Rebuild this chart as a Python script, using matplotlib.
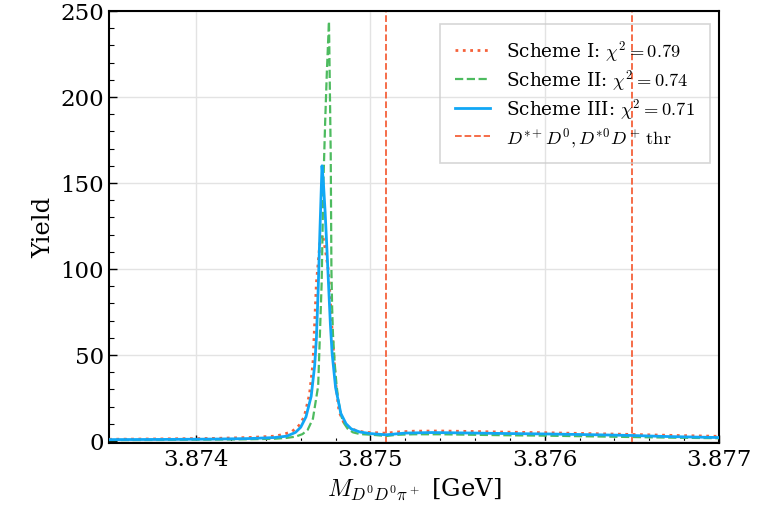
import matplotlib
matplotlib.use("Agg")
import matplotlib.pyplot as plt
from matplotlib.ticker import MultipleLocator

plt.rcParams["font.family"] = "DejaVu Serif"
plt.rcParams["mathtext.fontset"] = "cm"

# ── Data ────────────────────────────────────────────────────────────────────
# Scheme I (dotted)
x_s1 = [3.8735, 3.8738, 3.8741, 3.8743, 3.87445, 3.87450, 3.87455, 3.87459,
        3.87462, 3.87465, 3.87467, 3.87469, 3.87471, 3.874725, 3.87474,
        3.87476, 3.87478, 3.87480, 3.87482, 3.87485, 3.87488, 3.87492,
        3.87497, 3.87503, 3.87509, 3.87515, 3.87525, 3.87540, 3.87560,
        3.87580, 3.87600, 3.87625, 3.87650, 3.87675, 3.87700]
y_s1 = [1.0, 1.2, 1.5, 2.0, 2.8, 3.8, 5.5, 9.0,
        14.0, 27.0, 45.0, 92.0, 115.0, 120.0, 112.0,
        98.0, 64.0, 34.0, 17.0, 10.0, 7.5, 6.0,
        5.0, 4.8, 4.5, 5.2, 5.7, 5.8, 5.5,
        5.1, 4.8, 4.3, 3.8, 3.2, 2.7]

# Scheme II (dashed)
x_s2 = [3.8735, 3.8738, 3.8741, 3.8743, 3.87445, 3.87452, 3.87457, 3.87461,
        3.87464, 3.87467, 3.87470, 3.87472, 3.87473, 3.87474, 3.87475,
        3.874762, 3.874767, 3.874772, 3.874776, 3.87478, 3.874785, 3.874795,
        3.874805, 3.874815, 3.874834, 3.87485, 3.87487, 3.87490, 3.87494,
        3.87501, 3.87509, 3.87515, 3.87525, 3.87540, 3.87560, 3.87580,
        3.87600, 3.87625, 3.87650, 3.87675, 3.87700]
y_s2 = [0.5, 0.6, 0.8, 1.0, 1.3, 1.8, 2.5, 4.0,
        6.5, 13.0, 32.0, 92.0, 150.0, 185.0, 215.0,
        244.0, 205.0, 167.0, 100.0, 78.0, 62.0, 45.0,
        33.0, 24.0, 14.0, 10.0, 7.0, 5.0, 4.0,
        3.6, 2.9, 3.6, 3.9, 3.9, 3.6, 3.3,
        3.1, 2.7, 2.3, 1.9, 1.6]

# Scheme III (solid)
x_s3 = [3.8735, 3.8738, 3.8741, 3.8743, 3.87445, 3.87452, 3.87457, 3.87460,
        3.87463, 3.87466, 3.87468, 3.87469, 3.87470, 3.87471, 3.874722,
        3.87473, 3.87474, 3.87475, 3.87476, 3.87477, 3.87478, 3.87480,
        3.87483, 3.87486, 3.87489, 3.87494, 3.87500, 3.87509, 3.87520,
        3.87535, 3.87560, 3.87580, 3.87600, 3.87630, 3.87650, 3.87670,
        3.87700]
y_s3 = [0.8, 0.9, 1.1, 1.4, 2.0, 2.8, 5.0, 8.0,
        14.0, 26.0, 44.0, 60.0, 88.0, 122.0, 160.0,
        150.0, 133.0, 112.0, 90.0, 68.0, 51.0, 31.0,
        16.0, 10.0, 7.0, 5.2, 4.3, 3.6, 4.6,
        4.9, 4.6, 4.3, 4.1, 3.6, 3.2, 2.6,
        2.0]

thresholds = [3.87509, 3.87650]
labels = [r"Scheme I: $\chi^2=0.79$",
          r"Scheme II: $\chi^2=0.74$",
          r"Scheme III: $\chi^2=0.71$",
          r"$D^{*+}D^0, D^{*0}D^+\,\mathrm{thr}$"]

RED = "#f5613a"
GREEN = "#4dbb5f"
BLUE = "#11a7f5"

fig = plt.figure(figsize=(7.71, 5.10), dpi=100)
ax = fig.add_axes([0.1414, 0.130, 0.7912, 0.8465])

ax.plot(x_s1, y_s1, ls=":", lw=2.0, color=RED, label=labels[0], zorder=3)
ax.plot(x_s2, y_s2, ls="--", lw=1.6, color=GREEN, label=labels[1], zorder=3)
ax.plot(x_s3, y_s3, ls="-", lw=2.0, color=BLUE, label=labels[2], zorder=4)
for k, xt in enumerate(thresholds):
    ax.axvline(xt, ls="--", lw=1.3, color=RED,
               label=labels[3] if k == 0 else None, zorder=2)

ax.set_xlim(3.8735, 3.877)
ax.set_ylim(-1, 250)
ax.xaxis.set_major_locator(MultipleLocator(0.001))
ax.xaxis.set_minor_locator(MultipleLocator(0.0002))
ax.yaxis.set_major_locator(MultipleLocator(50))
ax.yaxis.set_minor_locator(MultipleLocator(10))
ax.xaxis.set_major_formatter(plt.FormatStrFormatter("%.3f"))

ax.tick_params(which="both", direction="in", labelsize=16.5)
ax.tick_params(which="major", length=6, width=1.0)
ax.tick_params(which="minor", length=3.5, width=0.8)
for s in ax.spines.values():
    s.set_linewidth(1.5)
ax.grid(True, which="major", color="#e3e3e3", lw=1.0, zorder=0)
ax.set_axisbelow(True)

ax.set_xlabel(r"$M_{D^0D^0\pi^+}$ [GeV]", fontsize=17.5)
ax.set_ylabel("Yield", fontsize=17.5)

leg = ax.legend(loc="upper right", fontsize=13.3, fancybox=False,
                handlelength=1.9, labelspacing=0.22, borderpad=0.8,
                handletextpad=0.9, borderaxespad=0.0,
                bbox_to_anchor=(0.985, 0.97))
frame = leg.get_frame()
frame.set_facecolor("none")
frame.set_edgecolor("#cccccc")
frame.set_linewidth(1.2)

fig.savefig("out.png", dpi=100)
